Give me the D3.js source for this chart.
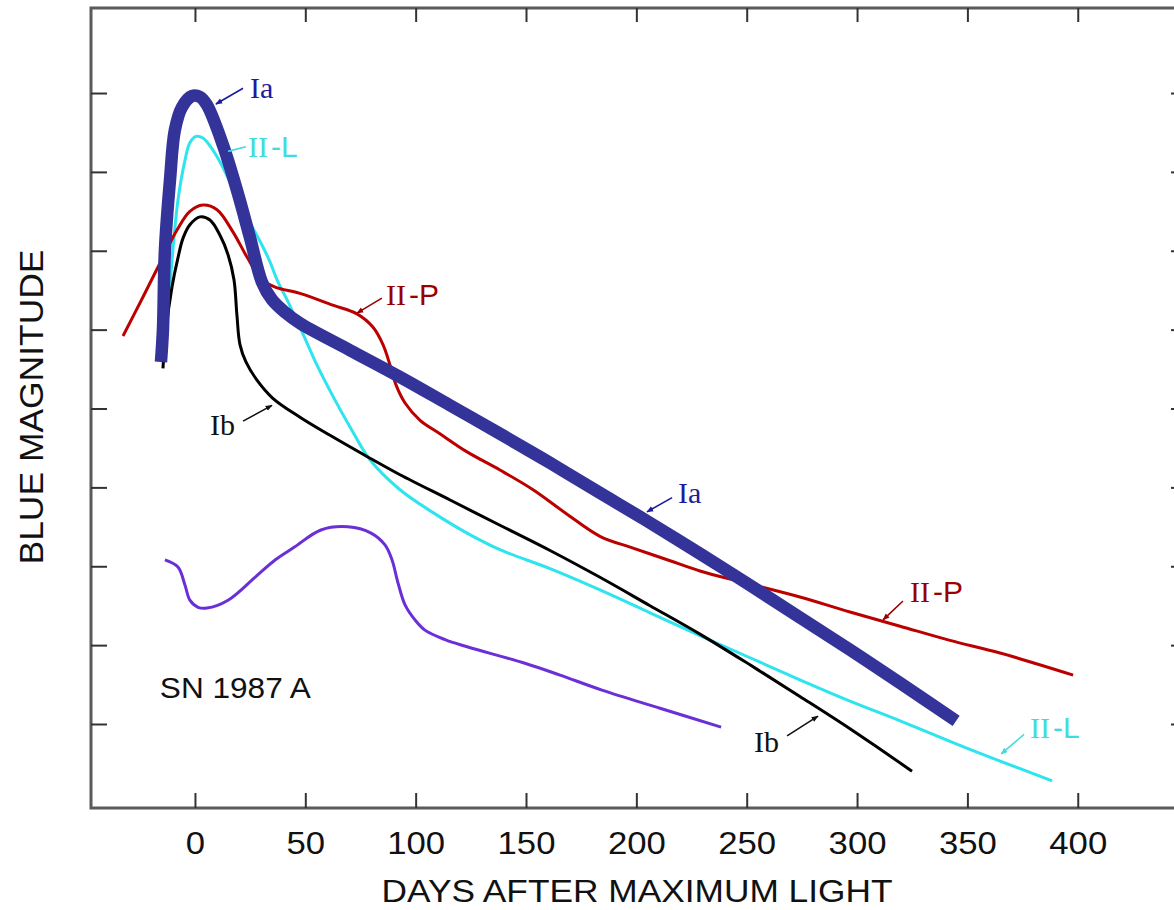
<!DOCTYPE html>
<html>
<head>
<meta charset="utf-8">
<script src="https://cdn.jsdelivr.net/npm/d3@7"></script>
<style>
  html, body { margin: 0; padding: 0; background: #fff; }
  svg { display: block; }
</style>
</head>
<body>
<svg id="chart" width="1174" height="910"></svg>
<script>
// ---------------- DATA ----------------
// x: days after maximum light; y: relative blue magnitude (one tick = 1 mag)
const xTicks = [0, 50, 100, 150, 200, 250, 300, 350, 400];
const magTicks = [0, 1, 2, 3, 4, 5, 6, 7, 8];

const iaDays = [-15.4, -14.5, -13.6, -11.3, -9.1, -5.9, -1.4, 2.3, 5.4, 12.7, 19.0, 24.9, 30.4, 34.9, 40.8, 47.6, 70.2, 92.9, 115.6, 138.2, 160.9, 183.5, 203.9, 228.8, 251.5, 274.1, 296.8, 319.5, 344.9];
const iaMag  = [3.41, 3.00, 1.99, 1.10, 0.47, 0.18, 0.04, 0.05, 0.15, 0.66, 1.23, 1.83, 2.40, 2.62, 2.78, 2.92, 3.26, 3.60, 3.96, 4.32, 4.69, 5.07, 5.41, 5.84, 6.24, 6.65, 7.06, 7.48, 7.96];

const iipDays = [-32.6, -23.6, -15.9, -8.2, -2.3, 3.6, 10.0, 17.2, 23.6, 30.4, 36.3, 47.6, 62.5, 73.4, 80.7, 85.2, 88.4, 91.1, 95.2, 102.0, 111.0, 123.3, 138.2, 153.2, 168.6, 183.5, 198.5, 215.3, 228.8, 249.2, 274.1, 296.8, 319.5, 342.1, 364.8, 397.9];
const iipMag  = [3.08, 2.59, 2.16, 1.74, 1.50, 1.42, 1.48, 1.76, 2.08, 2.37, 2.46, 2.54, 2.69, 2.80, 2.97, 3.19, 3.45, 3.70, 3.93, 4.15, 4.32, 4.55, 4.78, 5.03, 5.34, 5.62, 5.77, 5.93, 6.06, 6.21, 6.39, 6.58, 6.76, 6.94, 7.10, 7.38];

const ibDays = [-14.5, -13.1, -10.4, -7.7, -5.4, -2.3, 2.3, 6.8, 11.3, 15.0, 17.7, 19.0, 20.4, 23.1, 28.1, 35.3, 47.6, 61.2, 79.3, 92.9, 115.6, 138.2, 160.9, 183.5, 206.2, 228.8, 251.5, 274.1, 296.8, 324.9];
const ibMag  = [3.49, 3.00, 2.46, 2.09, 1.84, 1.67, 1.57, 1.61, 1.80, 2.05, 2.37, 2.81, 3.19, 3.41, 3.64, 3.87, 4.11, 4.34, 4.63, 4.84, 5.16, 5.48, 5.80, 6.14, 6.50, 6.86, 7.25, 7.65, 8.06, 8.60];

const iilDays = [-13.1, -12.2, -10.4, -7.7, -4.5, -2.3, 0.5, 3.6, 6.8, 11.3, 15.9, 20.4, 25.8, 30.4, 34.0, 37.2, 41.7, 46.2, 50.8, 55.3, 63.4, 70.2, 79.3, 92.9, 107.9, 123.3, 138.2, 160.9, 183.5, 206.2, 228.8, 251.5, 274.1, 296.8, 319.5, 342.1, 364.8, 388.4];
const iilMag  = [3.16, 2.79, 2.12, 1.36, 0.85, 0.63, 0.55, 0.57, 0.67, 0.87, 1.13, 1.42, 1.69, 1.93, 2.14, 2.37, 2.62, 2.89, 3.17, 3.45, 3.89, 4.23, 4.65, 5.03, 5.32, 5.58, 5.79, 6.03, 6.30, 6.59, 6.88, 7.16, 7.44, 7.71, 7.96, 8.22, 8.47, 8.72];

const snDays = [-13.6, -7.7, -4.5, -2.3, 1.4, 5.4, 15.0, 27.2, 36.3, 44.9, 57.1, 69.3, 79.8, 86.1, 89.3, 92.0, 95.2, 99.7, 104.2, 113.3, 123.3, 149.5, 165.4, 184.4, 210.7, 238.4];
const snMag  = [5.92, 6.01, 6.24, 6.43, 6.52, 6.53, 6.43, 6.14, 5.92, 5.76, 5.54, 5.50, 5.58, 5.73, 5.92, 6.21, 6.49, 6.68, 6.81, 6.93, 7.02, 7.23, 7.38, 7.57, 7.80, 8.04];

// annotation labels (text anchor in data coords, arrow from -> to)
const labelNames  = ["Ia", "II-L", "II-P", "Ib", "Ia", "II-P", "Ib", "II-L"];
const labelDay    = [24.9, 24.0, 86.6, 6.8, 218.9, 324.0, 253.3, 378.4];
const labelMag    = [0.06, 0.81, 2.69, 4.34, 5.20, 6.45, 8.35, 8.18];
const arrowFrom   = [[21.8, -0.06], [23.1, 0.68], [84.7, 2.60], [21.8, 4.16], [216.2, 5.13], [320.8, 6.44], [268.3, 8.15], [375.7, 8.13]];
const arrowTo     = [[9.5, 0.14], [15.0, 0.74], [73.4, 2.79], [34.9, 3.96], [204.8, 5.31], [311.8, 6.68], [282.3, 7.90], [365.3, 8.38]];
const arrowHead   = [true, false, true, true, true, true, true, true];

// ---------------- STYLE ----------------
const colors = { Ia: "#333399", "II-L": "#2ee4ee", "II-P": "#bb0000", Ib: "#000000", SN: "#6a2fd6" };
const labelColors = { Ia: "#1c1c9c", "II-L": "#3fdcdc", "II-P": "#9a0000", Ib: "#111111" };

const svg = d3.select("#chart");
const W = 1174, H = 910;
svg.append("rect").attr("width", W).attr("height", H).attr("fill", "#fff");

const plot = { left: 91, right: 1187, top: 8, bottom: 808 };
const x = d3.scaleLinear().domain([-47.1, 449.5]).range([plot.left, plot.right]);
const y = d3.scaleLinear().domain([-1.078, 9.065]).range([plot.top, plot.bottom]);

// frame
svg.append("rect")
  .attr("x", plot.left).attr("y", plot.top)
  .attr("width", plot.right - plot.left).attr("height", plot.bottom - plot.top)
  .attr("fill", "none").attr("stroke", "#5a5a5a").attr("stroke-width", 3);

function styleAxis(g) {
  g.select(".domain").remove();
  g.selectAll(".tick line").attr("stroke", "#333").attr("stroke-width", 2);
}

// bottom axis with labels
const gBottom = svg.append("g").attr("transform", `translate(0,${plot.bottom})`)
  .call(d3.axisBottom(x).tickValues(xTicks).tickSize(-15).tickPadding(24).tickFormat(d3.format("d")));
styleAxis(gBottom);
gBottom.selectAll(".tick text")
  .attr("font-family", "'Liberation Sans', Arial, sans-serif")
  .attr("font-size", 31).attr("fill", "#111")
  .attr("transform", "scale(1.12,1)");

svg.append("g").attr("transform", `translate(0,${plot.top})`)
  .call(d3.axisTop(x).tickValues(xTicks).tickSize(-14).tickFormat(""))
  .call(styleAxis);
svg.append("g").attr("transform", `translate(${plot.left},0)`)
  .call(d3.axisLeft(y).tickValues(magTicks).tickSize(-16).tickFormat(""))
  .call(styleAxis);
svg.append("g").attr("transform", `translate(${plot.right},0)`)
  .call(d3.axisRight(y).tickValues(magTicks).tickSize(-16).tickFormat(""))
  .call(styleAxis);

// axis titles
svg.append("text")
  .attr("x", 637).attr("y", 902)
  .attr("text-anchor", "middle")
  .attr("font-family", "'Liberation Sans', Arial, sans-serif")
  .attr("font-size", 32).attr("fill", "#111")
  .attr("textLength", 511).attr("lengthAdjust", "spacingAndGlyphs")
  .text("DAYS AFTER MAXIMUM LIGHT");

svg.append("text")
  .attr("transform", "translate(43,407) rotate(-90)")
  .attr("text-anchor", "middle")
  .attr("font-family", "'Liberation Sans', Arial, sans-serif")
  .attr("font-size", 33).attr("fill", "#111")
  .attr("textLength", 315).attr("lengthAdjust", "spacingAndGlyphs")
  .text("BLUE MAGNITUDE");

// curves
const line = d3.line().x(d => x(d[0])).y(d => y(d[1])).curve(d3.curveCatmullRom.alpha(0.5));
const zip = (a, b) => a.map((v, i) => [v, b[i]]);

const series = [
  { key: "SN", data: zip(snDays, snMag), w: 3 },
  { key: "II-L", data: zip(iilDays, iilMag), w: 3 },
  { key: "II-P", data: zip(iipDays, iipMag), w: 3 },
  { key: "Ib", data: zip(ibDays, ibMag), w: 3 },
  { key: "Ia", data: zip(iaDays, iaMag), w: 12.5 }
];
svg.append("g").selectAll("path").data(series).join("path")
  .attr("d", d => line(d.data))
  .attr("fill", "none")
  .attr("stroke", d => colors[d.key])
  .attr("stroke-width", d => d.w)
  .attr("stroke-linejoin", "round")
  .attr("stroke-linecap", "butt");

// arrow markers
const defs = svg.append("defs");
Object.keys(labelColors).forEach((k, i) => {
  defs.append("marker")
    .attr("id", "arr" + i)
    .attr("viewBox", "0 0 10 10").attr("refX", 9).attr("refY", 5)
    .attr("markerWidth", 7).attr("markerHeight", 7)
    .attr("markerUnits", "userSpaceOnUse")
    .attr("orient", "auto")
    .append("path").attr("d", "M0,1 L10,5 L0,9 Z").attr("fill", labelColors[k]);
});
const markerIdx = k => Object.keys(labelColors).indexOf(k);

// annotations
const ann = svg.append("g");
labelNames.forEach((name, i) => {
  const c = labelColors[name];
  const l = ann.append("line")
    .attr("x1", x(arrowFrom[i][0])).attr("y1", y(arrowFrom[i][1]))
    .attr("x2", x(arrowTo[i][0])).attr("y2", y(arrowTo[i][1]))
    .attr("stroke", c).attr("stroke-width", 1.6);
  if (arrowHead[i]) l.attr("marker-end", `url(#arr${markerIdx(name)})`);

  const t = ann.append("text")
    .attr("x", x(labelDay[i])).attr("y", y(labelMag[i]))
    .attr("fill", c).attr("font-size", 30);
  const parts = name.split("-");
  t.append("tspan").attr("font-family", "'Liberation Serif', 'Times New Roman', serif")
    .text(parts[0]);
  if (parts.length > 1) {
    t.append("tspan").attr("font-family", "'Liberation Sans', Arial, sans-serif")
      .attr("dx", 3).text("-" + parts[1]);
  }
});

// SN 1987 A label
svg.append("text")
  .attr("x", x(-15.9)).attr("y", y(7.67))
  .attr("font-family", "'Liberation Sans', Arial, sans-serif")
  .attr("font-size", 29).attr("fill", "#111")
  .attr("textLength", 151).attr("lengthAdjust", "spacingAndGlyphs")
  .text("SN 1987 A");
</script>
</body>
</html>
